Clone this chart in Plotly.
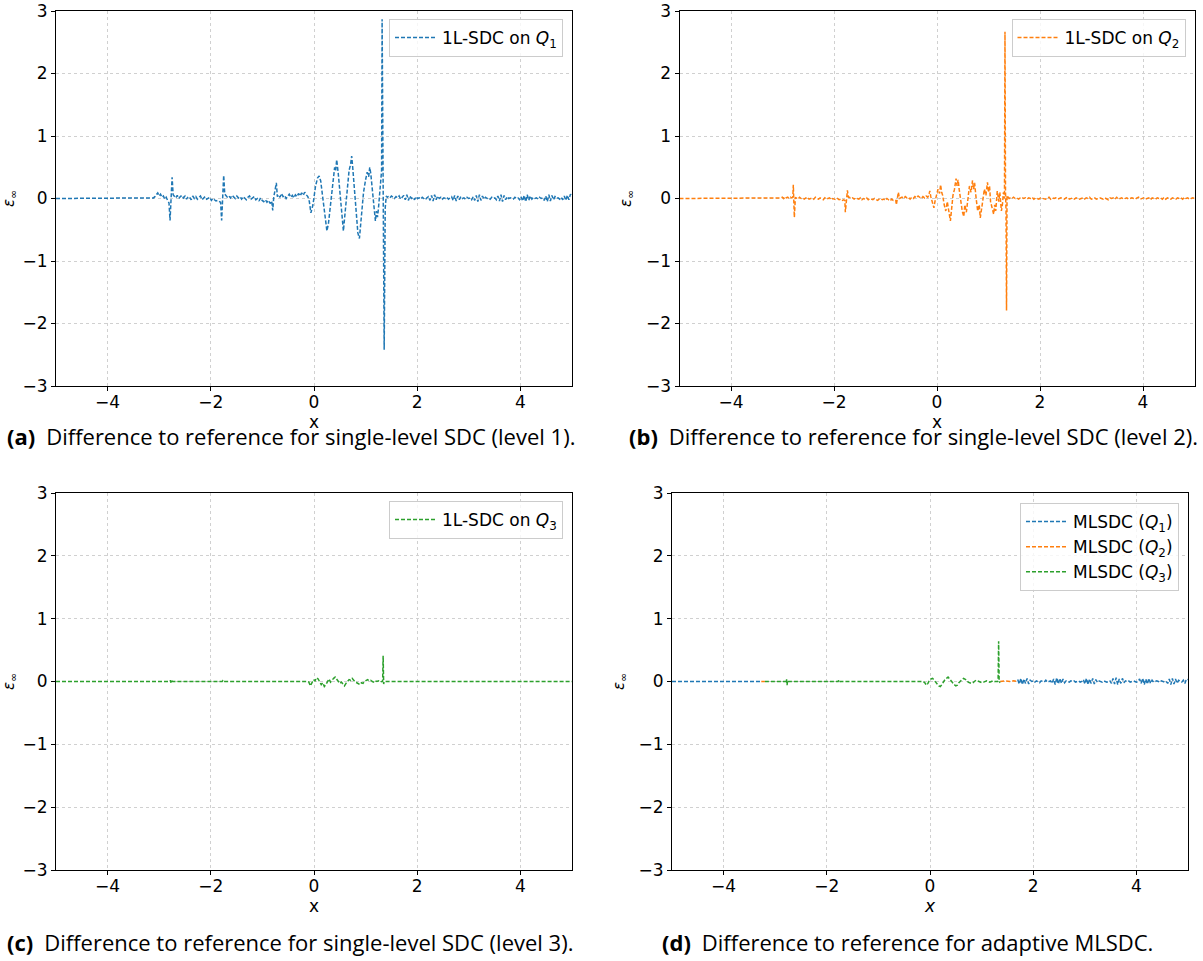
import numpy as np
import plotly.graph_objects as go

# ---------------- axes / labels ----------------
X_RANGE = [-5, 5]
Y_RANGE = [-3, 3]
X_TICKS = [-4, -2, 0, 2, 4]
Y_TICKS = [-3, -2, -1, 0, 1, 2, 3]
COLORS = {"Q1": "#1f77b4", "Q2": "#ff7f0e", "Q3": "#2ca02c"}
CAPTIONS = [
    "(a)", "Difference to reference for single-level SDC (level 1).",
    "(b)", "Difference to reference for single-level SDC (level 2).",
    "(c)", "Difference to reference for single-level SDC (level 3).",
    "(d)", "Difference to reference for adaptive MLSDC.",
]

# ---------------- panel (a): 1L-SDC on Q1 ----------------
A_flat_x = [-5.0, -3.13]
A_flat_y = [0.0, 0.0]
A_n1_span = [-3.11, -2.81]
A_n1_y = [0.01, 0.03, 0.06, 0.09, 0.04, 0.07, 0.02, 0.04, -0.01, 0.02, -0.03, -0.07]
A_s1_x = [-2.79, -2.77, -2.75, -2.73]
A_s1_y = [-0.35, -0.04, 0.34, 0.06]
A_n2_span = [-2.71, -1.81]
A_n2_y = [0.04, 0.01, 0.05, 0.0, 0.03, 0.05, 0.01, 0.04, -0.01, 0.03, 0.02, -0.02, 0.04, 0.0, 0.03,
          -0.01, 0.02, 0.04, -0.02, 0.01, 0.03, -0.01, 0.0, 0.02, -0.03, 0.0, -0.02, -0.04, -0.03,
          -0.05, -0.06]
A_s2_x = [-1.79, -1.77, -1.75, -1.73]
A_s2_y = [-0.35, -0.02, 0.37, 0.07]
A_n3_span = [-1.71, -0.82]
A_n3_y = [0.05, 0.02, 0.04, 0.01, 0.05, 0.02, 0.0, 0.04, 0.01, 0.03, -0.01, 0.03, 0.0, -0.02, 0.02,
          0.04, -0.01, 0.01, 0.03, -0.02, 0.0, -0.04, 0.01, -0.03, -0.05, -0.02, -0.06, -0.03,
          -0.08, -0.04]
A_s3_x = [-0.80, -0.78, -0.76, -0.73, -0.71]
A_s3_y = [-0.19, 0.02, 0.12, 0.25, 0.03]
A_n4_span = [-0.69, -0.12]
A_n4_y = [0.06, 0.02, 0.08, 0.03, 0.05, 0.0, 0.04, 0.07, 0.02, 0.05, 0.01, 0.06, 0.03, 0.08, 0.04,
          0.09, 0.05, 0.1, 0.06, 0.03]
A_osc_x = [-0.09, -0.06, -0.02, 0.03, 0.07, 0.10, 0.13, 0.17, 0.21, 0.25,
           0.28, 0.32, 0.36, 0.40, 0.42, 0.44, 0.47, 0.51, 0.54, 0.57,
           0.60, 0.64, 0.68, 0.71, 0.73, 0.75, 0.78, 0.82, 0.85, 0.88,
           0.90, 0.93, 0.96, 1.00, 1.03, 1.06, 1.08, 1.10, 1.12, 1.15,
           1.17, 1.19, 1.21, 1.23, 1.25, 1.27, 1.29, 1.31, 1.32, 1.34,
           1.36, 1.38, 1.40, 1.42]
A_osc_y = [-0.05, -0.23, -0.1, 0.2, 0.33, 0.36, 0.28, 0.0, -0.3, -0.52,
           -0.4, -0.1, 0.25, 0.5, 0.45, 0.62, 0.4, 0.0, -0.35, -0.52,
           -0.25, 0.1, 0.45, 0.55, 0.68, 0.5, 0.2, -0.2, -0.55, -0.64,
           -0.45, -0.2, 0.1, 0.3, 0.42, 0.35, 0.5, 0.4, 0.2, -0.1,
           -0.3, -0.36, -0.2, -0.3, -0.15, 0.05, 0.3, 0.45, 2.87, 0.2,
           -2.42, -0.15, 0.04, 0.02]
A_n5_span = [1.44, 5.0]
A_n5_y = [0.03, 0.01, 0.04, 0.02, 0.0, 0.03, 0.01, 0.04, -0.01, 0.02,
          0.05, -0.02, 0.06, -0.03, 0.04, 0.0, 0.02, -0.02, 0.03, 0.0,
          0.01, -0.01, 0.02, 0.0, -0.02, 0.01, 0.03, -0.03, 0.05, -0.04,
          0.06, -0.02, 0.04, 0.0, 0.02, -0.01, 0.01, 0.0, 0.02, -0.01,
          0.01, 0.03, -0.03, 0.05, -0.04, 0.04, -0.02, 0.03, 0.0, 0.01,
          -0.01, 0.02, 0.0, 0.01, -0.02, 0.03, -0.03, 0.05, -0.05, 0.06,
          -0.03, 0.04, -0.01, 0.02, 0.0, 0.01, -0.01, 0.02, 0.0, 0.01,
          -0.02, 0.04, -0.04, 0.06, -0.05, 0.05, -0.02, 0.03, 0.0, 0.01,
          0.0, -0.01, 0.02, 0.0, 0.01, -0.02, 0.03, -0.04, 0.05, -0.05,
          0.06, -0.03, 0.04, -0.01, 0.02, 0.0, 0.01, -0.01, 0.02, 0.0,
          0.01, -0.03, 0.04, -0.05, 0.06, -0.04, 0.05, -0.02, 0.03, 0.0,
          0.01, -0.01, 0.02, -0.02, 0.04, -0.03, 0.05, -0.02, 0.07, 0.03]

# ---------------- panel (b): 1L-SDC on Q2 ----------------
B_flat_x = [-5.0, -3.05]
B_flat_y = [0.0, 0.0]
B_n1_span = [-3.03, -2.82]
B_n1_y = [0.01, 0.02, 0.0, 0.03, 0.01, 0.02, 0.0, 0.02, 0.01]
B_s1_x = [-2.80, -2.79, -2.78, -2.77, -2.75]
B_s1_y = [0.02, 0.22, -0.05, -0.30, 0.02]
B_n2_span = [-2.73, -1.81]
B_n2_y = [0.01, -0.01, 0.02, 0.0, 0.01, -0.01, 0.01, 0.02, -0.01, 0.0, 0.01, -0.01, 0.02, 0.0,
          -0.01, 0.01, 0.0, -0.02, 0.01, -0.01, 0.0, 0.01, -0.02, 0.0, -0.01, -0.02, 0.0, -0.02,
          -0.01, -0.03, -0.02]
B_s2_x = [-1.79, -1.78, -1.76, -1.74, -1.72]
B_s2_y = [-0.03, -0.22, 0.0, 0.13, 0.02]
B_n3_span = [-1.70, -0.82]
B_n3_y = [0.02, 0.0, 0.01, -0.01, 0.01, 0.0, -0.01, 0.01, -0.02, 0.0, -0.01, 0.01, -0.02, 0.0,
          -0.01, -0.02, 0.0, -0.01, -0.03, -0.01, 0.0, -0.02, -0.01, -0.03, 0.0, -0.02, -0.04,
          -0.01, -0.03, -0.02]
B_s3_x = [-0.80, -0.79, -0.77, -0.75, -0.73]
B_s3_y = [-0.03, -0.10, 0.03, 0.10, 0.0]
B_n4_span = [-0.71, -0.18]
B_n4_y = [0.01, 0.02, 0.0, 0.03, 0.01, 0.02, -0.01, 0.02, 0.0, 0.03, 0.01, 0.04, 0.02, 0.0, 0.03,
          0.01, 0.04, 0.02]
B_osc_x = [-0.16, -0.14, -0.12, -0.09, -0.06, -0.04, -0.01, 0.02, 0.05, 0.07,
           0.09, 0.11, 0.14, 0.17, 0.20, 0.23, 0.26, 0.28, 0.31, 0.34,
           0.37, 0.39, 0.41, 0.43, 0.46, 0.49, 0.52, 0.54, 0.57, 0.60,
           0.63, 0.66, 0.69, 0.71, 0.73, 0.76, 0.79, 0.82, 0.84, 0.86,
           0.89, 0.92, 0.95, 0.98, 1.00, 1.02, 1.04, 1.07, 1.10, 1.12,
           1.14, 1.17, 1.20, 1.22, 1.25, 1.27, 1.29, 1.31, 1.32, 1.33,
           1.34, 1.35, 1.36, 1.38, 1.40]
B_osc_y = [0.05, 0.12, 0.03, -0.08, -0.15, -0.05, 0.05, 0.15, 0.08, 0.22,
           0.1, 0.05, -0.1, -0.2, -0.05, -0.25, -0.36, -0.2, 0.05, 0.15,
           0.32, 0.2, 0.3, 0.15, -0.05, -0.2, -0.29, -0.1, -0.22, 0.05,
           0.2, 0.1, 0.29, 0.15, 0.25, 0.0, -0.2, -0.1, -0.31, -0.2,
           0.0, 0.15, 0.05, 0.26, 0.1, 0.2, -0.05, -0.15, -0.25, -0.1,
           -0.2, 0.12, -0.05, 0.1, -0.2, -0.1, 0.1, 0.0, 2.67, 0.1,
           -0.2, -1.79, 0.05, 0.02, 0.0]
B_n5_span = [1.42, 5.0]
B_n5_y = [0.01, 0.0, 0.02, 0.0, 0.01, -0.01, 0.01, 0.02, 0.0, 0.01,
          -0.01, 0.01, 0.0, 0.02, -0.01, 0.01, 0.0, -0.01, 0.01, 0.0,
          0.0, -0.01, 0.01, 0.02, -0.01, 0.01, 0.0, 0.01, -0.01, 0.0,
          0.01, 0.0, -0.01, 0.01, 0.02, -0.01, 0.0, 0.01, -0.01, 0.01,
          0.0, -0.01, 0.0, 0.01, -0.01, 0.01, 0.0, 0.02, -0.01, 0.0,
          0.01, -0.01, 0.0, 0.01, 0.0, -0.01, 0.01, 0.0, -0.02, 0.01,
          0.0, 0.01, -0.01, 0.02, -0.01, 0.0, 0.01, -0.01, 0.0, 0.01,
          -0.01, 0.0, 0.01, 0.0, -0.01, 0.01, 0.02, -0.01, 0.0, 0.01,
          -0.01, 0.0, 0.01, -0.02, 0.01, 0.0, -0.01, 0.01, 0.0, 0.01,
          -0.01, 0.02, -0.01, 0.01, 0.0, -0.01, 0.01, 0.0, -0.01, 0.01,
          0.0, 0.01, -0.01, 0.02, 0.0, 0.01, -0.01, 0.0, 0.01, 0.0]

# ---------------- panel (c): 1L-SDC on Q3 ----------------
C_f1_x = [-5.0, -2.79]
C_f1_y = [0.0, 0.0]
C_s1_x = [-2.78, -2.77, -2.76, -2.75]
C_s1_y = [0.02, -0.02, 0.01, 0.0]
C_f2_x = [-2.74, -1.78]
C_f2_y = [0.0, 0.0]
C_s2_x = [-1.77, -1.76, -1.75]
C_s2_y = [0.01, -0.01, 0.0]
C_f3_x = [-1.74, -0.12]
C_f3_y = [0.0, 0.0]
C_osc_x = [-0.10, -0.07, -0.04, -0.01, 0.02, 0.05, 0.08, 0.11, 0.14, 0.17,
           0.20, 0.23, 0.26, 0.29, 0.32, 0.35, 0.38, 0.41, 0.44, 0.47,
           0.50, 0.53, 0.56, 0.59, 0.62, 0.65, 0.68, 0.71, 0.74, 0.77,
           0.80, 0.83, 0.86, 0.89, 0.92, 0.95, 0.98, 1.01, 1.04, 1.07,
           1.10, 1.13, 1.16, 1.19, 1.22, 1.25, 1.28, 1.31]
C_osc_y = [-0.01, -0.07, -0.03, 0.03, 0.01, 0.06, 0.04, -0.02, -0.05, -0.02,
           -0.08, -0.05, 0.01, 0.04, -0.01, 0.03, 0.05, 0.07, 0.03, 0.01,
           -0.03, -0.01, -0.05, -0.07, -0.03, 0.01, 0.03, 0.02, 0.05, 0.02,
           -0.01, -0.02, -0.04, -0.05, -0.02, -0.03, 0.0, 0.02, 0.03, 0.01,
           0.02, 0.0, -0.01, 0.01, 0.0, 0.01, -0.01, 0.0]
C_s3_x = [1.33, 1.34, 1.35, 1.36]
C_s3_y = [0.0, 0.41, -0.04, 0.0]
C_f4_x = [1.37, 5.0]
C_f4_y = [0.0, 0.0]

# ---------------- panel (d): adaptive MLSDC ----------------
D_q1a_x = [-5.0, -3.27]
D_q1a_y = [0.0, 0.0]
D_q2a_x = [-3.27, -3.20]
D_q2a_y = [0.0, 0.0]
D_q3f1_x = [-3.20, -2.79]
D_q3f1_y = [0.0, 0.0]
D_q3s1_x = [-2.78, -2.77, -2.76, -2.75]
D_q3s1_y = [0.04, -0.06, 0.02, 0.0]
D_q3f2_x = [-2.74, -1.78]
D_q3f2_y = [0.0, 0.0]
D_q3s2_x = [-1.77, -1.76, -1.75]
D_q3s2_y = [0.02, -0.01, 0.0]
D_q3f3_x = [-1.74, -0.15]
D_q3f3_y = [0.0, 0.0]
D_q3osc_x = [-0.13, -0.10, -0.07, -0.04, -0.01, 0.02, 0.05, 0.08, 0.11, 0.14,
             0.17, 0.20, 0.23, 0.26, 0.29, 0.32, 0.35, 0.38, 0.41, 0.44,
             0.47, 0.50, 0.53, 0.56, 0.59, 0.62, 0.65, 0.68, 0.71, 0.74,
             0.77, 0.80, 0.83, 0.86, 0.89, 0.92, 0.95, 0.98, 1.01, 1.04,
             1.07, 1.10, 1.13, 1.16, 1.19, 1.22, 1.25, 1.28]
D_q3osc_y = [0.0, -0.02, -0.06, -0.03, 0.02, 0.04, 0.05, 0.02, -0.02, -0.04,
             -0.07, -0.08, -0.05, 0.0, 0.03, 0.05, 0.07, 0.04, 0.01, -0.03,
             -0.05, -0.07, -0.06, -0.02, 0.01, 0.03, 0.05, 0.04, 0.02, -0.01,
             -0.02, -0.03, -0.02, 0.0, 0.02, 0.01, 0.0, -0.01, -0.02, -0.01,
             0.0, 0.01, 0.0, -0.01, 0.0, 0.01, 0.0, 0.0]
D_q3s3_x = [1.31, 1.32, 1.33, 1.34, 1.35, 1.36]
D_q3s3_y = [0.0, 0.02, 0.64, 0.0, -0.01, 0.0]
D_q2b_x = [1.36, 1.45, 1.55, 1.62, 1.70]
D_q2b_y = [0.0, 0.01, 0.0, 0.01, 0.0]
D_q1b_span = [1.70, 5.0]
D_q1b_y = [0.03, -0.04, 0.05, -0.05, 0.04, -0.03, 0.05, -0.04, 0.02,
           0.0, 0.01, -0.01, 0.01, 0.0, -0.02, 0.01, 0.0, -0.01, 0.02, -0.01, 0.0, 0.01,
           -0.03, 0.04, -0.05, 0.06, -0.04, 0.05, -0.03, 0.04, -0.02, 0.01,
           0.0, -0.01, 0.01, 0.0, 0.01, -0.01, 0.0, 0.01, -0.01, 0.0,
           0.03, -0.04, 0.05, -0.05, 0.04, -0.03, 0.05, -0.04, 0.03, -0.01,
           0.01, 0.0, -0.01, 0.01, 0.0, -0.01, 0.0, 0.01,
           -0.03, 0.05, -0.04, 0.06, -0.05, 0.04, -0.03, 0.05, -0.02, 0.01,
           0.0, 0.01, -0.01, 0.0, 0.01, 0.0, -0.01, 0.0,
           0.04, -0.03, 0.05, -0.05, 0.04, -0.04, 0.05, -0.03, 0.02, -0.01,
           0.0, 0.01, 0.0, -0.01, 0.01, 0.0, -0.01, 0.0,
           -0.03, 0.04, -0.05, 0.05, -0.04, 0.04, -0.03, 0.02, 0.0,
           -0.01, 0.02, -0.03, 0.04, 0.03]


def pts(xs, ys):
    return list(xs), list(ys)


def span(sp, ys):
    return list(np.linspace(sp[0], sp[1], len(ys))), list(ys)


def join(*parts):
    X, Y = [], []
    for xs, ys in parts:
        X += xs
        Y += ys
    return X, Y


A_x, A_y = join(pts(A_flat_x, A_flat_y), span(A_n1_span, A_n1_y), pts(A_s1_x, A_s1_y),
                span(A_n2_span, A_n2_y), pts(A_s2_x, A_s2_y), span(A_n3_span, A_n3_y),
                pts(A_s3_x, A_s3_y), span(A_n4_span, A_n4_y), pts(A_osc_x, A_osc_y),
                span(A_n5_span, A_n5_y))
B_x, B_y = join(pts(B_flat_x, B_flat_y), span(B_n1_span, B_n1_y), pts(B_s1_x, B_s1_y),
                span(B_n2_span, B_n2_y), pts(B_s2_x, B_s2_y), span(B_n3_span, B_n3_y),
                pts(B_s3_x, B_s3_y), span(B_n4_span, B_n4_y), pts(B_osc_x, B_osc_y),
                span(B_n5_span, B_n5_y))
C_x, C_y = join(pts(C_f1_x, C_f1_y), pts(C_s1_x, C_s1_y), pts(C_f2_x, C_f2_y),
                pts(C_s2_x, C_s2_y), pts(C_f3_x, C_f3_y), pts(C_osc_x, C_osc_y),
                pts(C_s3_x, C_s3_y), pts(C_f4_x, C_f4_y))
D1_x, D1_y = join(pts(D_q1a_x, D_q1a_y), ([None], [None]), span(D_q1b_span, D_q1b_y))
D2_x, D2_y = join(pts(D_q2a_x, D_q2a_y), ([None], [None]), pts(D_q2b_x, D_q2b_y))
D3_x, D3_y = join(pts(D_q3f1_x, D_q3f1_y), pts(D_q3s1_x, D_q3s1_y), pts(D_q3f2_x, D_q3f2_y),
                  pts(D_q3s2_x, D_q3s2_y), pts(D_q3f3_x, D_q3f3_y), pts(D_q3osc_x, D_q3osc_y),
                  pts(D_q3s3_x, D_q3s3_y))

W, H = 1203, 961
FONT = "DejaVu Sans"
CAP_FONT = "Open Sans"

fig = go.Figure()


def line(x, y, color, name, k):
    ax = "" if k == 1 else str(k)
    fig.add_trace(go.Scatter(
        x=x, y=y, mode="lines", name=name, connectgaps=False,
        line=dict(color=color, width=1.5, dash="4px,2px"),
        xaxis="x" + ax, yaxis="y" + ax,
        legend="legend" + ("" if k == 1 else str(k)),
    ))


line(A_x, A_y, COLORS["Q1"], "1L-SDC on <i>Q</i><sub>1</sub>", 1)
line(B_x, B_y, COLORS["Q2"], "1L-SDC on <i>Q</i><sub>2</sub>", 2)
line(C_x, C_y, COLORS["Q3"], "1L-SDC on <i>Q</i><sub>3</sub>", 3)
line(D1_x, D1_y, COLORS["Q1"], "MLSDC (<i>Q</i><sub>1</sub>)", 4)
line(D2_x, D2_y, COLORS["Q2"], "MLSDC (<i>Q</i><sub>2</sub>)", 4)
line(D3_x, D3_y, COLORS["Q3"], "MLSDC (<i>Q</i><sub>3</sub>)", 4)

# pixel boxes (left, right, top, bottom) of each plot area
boxes = [(56, 572, 11, 386), (679.5, 1194.5, 11, 386), (56, 572, 493, 870), (672, 1188, 493, 870)]
xtitles = ["x", "x", "x", "<i>x</i>"]

layout = dict(width=W, height=H, margin=dict(l=0, r=0, t=0, b=0, autoexpand=False),
              paper_bgcolor="white", plot_bgcolor="white", template="none",
              font=dict(family=FONT, color="black", size=16), showlegend=True)

for i, (l, r, t, b) in enumerate(boxes):
    k = i + 1
    sx = "" if k == 1 else str(k)
    common = dict(showgrid=True, gridcolor="#d0d0d0", griddash="dot", gridwidth=1,
                  showline=True, mirror=True, linecolor="black", linewidth=1,
                  ticks="outside", ticklen=4, tickcolor="black", tickwidth=1,
                  zeroline=False, automargin=False,
                  tickfont=dict(family=FONT, size=17, color="black"))
    layout["xaxis" + sx] = dict(common, domain=[l / W, r / W], range=X_RANGE, tickvals=X_TICKS,
                                anchor="y" + sx, ticklabelstandoff=-3,
                                title=dict(text=xtitles[i], font=dict(family=FONT, size=17), standoff=0))
    layout["yaxis" + sx] = dict(common, domain=[1 - b / H, 1 - t / H], range=Y_RANGE, tickvals=Y_TICKS,
                                anchor="x" + sx,
                                title=dict(text="<i>ε</i><sub>∞</sub>", font=dict(family=FONT, size=15),
                                           standoff=10))
    leg_right = r - 9 if k != 4 else 1179
    leg_top = t + 8 if k != 4 else 503
    layout["legend" + sx] = dict(x=leg_right / W, y=1 - leg_top / H, xanchor="right", yanchor="top",
                                 bgcolor="rgba(255,255,255,0.8)", bordercolor="#cccccc", borderwidth=1,
                                 font=dict(family=FONT, size=17, color="black"),
                                 itemwidth=42, tracegroupgap=0)

fig.update_layout(**layout)

cap_pos = [(5, 436), (627, 436), (5, 942), (660, 942)]
for i, (cx, cy) in enumerate(cap_pos):
    fig.add_annotation(xref="paper", yref="paper", x=cx / W, y=1 - cy / H,
                       xanchor="left", yanchor="middle", showarrow=False,
                       text="<b>" + CAPTIONS[2 * i] + "</b>\u2002" + CAPTIONS[2 * i + 1],
                       font=dict(family=CAP_FONT, size=22, color="black"))

fig.write_html("out.html", config={"displayModeBar": False},
               post_script="document.body.style.margin='0px';")
